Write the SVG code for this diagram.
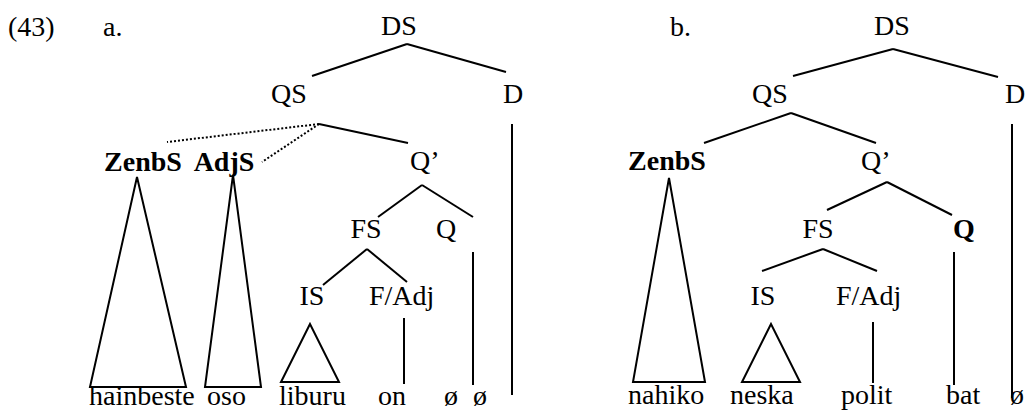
<svg xmlns="http://www.w3.org/2000/svg" width="1025" height="410" viewBox="0 0 1025 410">
<style>
text{font-family:'Liberation Serif','Times New Roman','DejaVu Serif',serif;font-size:28px;fill:#000}
.c{text-anchor:middle}
.b{font-weight:bold}
line,polygon{stroke:#000;stroke-width:2;fill:none}
.d{stroke-dasharray:2,2}
</style>
<rect width="1025" height="410" fill="#fff"/>
<g font-family="Liberation Serif, Times New Roman, DejaVu Serif, serif">
<g id="labels">
<text x="8" y="36">(43)</text>
<text x="103" y="36">a.</text>
<text x="670" y="36">b.</text>
</g>
<g id="a-DS"><text class="c" x="399" y="35">DS</text></g>
<g id="a-QS"><text class="c" x="289" y="103">QS</text></g>
<g id="a-D"><text class="c" x="513" y="103">D</text></g>
<g id="a-ZenbS"><text class="c b" x="143" y="171">ZenbS</text></g>
<g id="a-AdjS"><text class="c b" x="224" y="171">AdjS</text></g>
<g id="a-Qbar"><text x="410" y="170">Q’</text></g>
<g id="a-FS"><text class="c" x="366" y="238">FS</text></g>
<g id="a-Q"><text class="c" x="446" y="238">Q</text></g>
<g id="a-IS"><text class="c" x="312" y="305">IS</text></g>
<g id="a-FAdj"><text x="369" y="305">F/Adj</text></g>
<g id="a-words">
<text x="89" y="405">hainbeste</text>
<text x="207" y="405">oso</text>
<text x="279" y="405">liburu</text>
<text x="378" y="405">on</text>
<text x="444" y="405">ø</text>
<text x="473" y="405">ø</text>
</g>
<g id="b-DS"><text class="c" x="892" y="35">DS</text></g>
<g id="b-QS"><text class="c" x="770" y="103">QS</text></g>
<g id="b-D"><text x="1005" y="103">D</text></g>
<g id="b-ZenbS"><text class="c b" x="667" y="170">ZenbS</text></g>
<g id="b-Qbar"><text x="861" y="170">Q’</text></g>
<g id="b-FS"><text class="c" x="818" y="238">FS</text></g>
<g id="b-Q"><text class="c b" x="964" y="238">Q</text></g>
<g id="b-IS"><text class="c" x="763" y="305">IS</text></g>
<g id="b-FAdj"><text x="836" y="305">F/Adj</text></g>
<g id="b-words">
<text x="628" y="404">nahiko</text>
<text x="730" y="404">neska</text>
<text x="841" y="404">polit</text>
<text x="946" y="404">bat</text>
<text x="1010" y="404">ø</text>
</g>
</g>
<g id="connectors">
<line x1="407" y1="44" x2="312" y2="76"/>
<line x1="407" y1="44" x2="506" y2="72"/>
<line x1="319" y1="124" x2="408" y2="143"/>
<line class="d" x1="319" y1="124" x2="167" y2="142"/>
<line class="d" x1="319" y1="124" x2="262" y2="162"/>
<line x1="422" y1="185" x2="378" y2="217"/>
<line x1="422" y1="185" x2="473" y2="217"/>
<line x1="367" y1="249" x2="323" y2="285"/>
<line x1="367" y1="249" x2="407" y2="282"/>
<polygon points="310,324 281,382 339,382"/>
<line x1="404" y1="318" x2="404" y2="384"/>
<line x1="473" y1="252" x2="473" y2="385"/>
<line x1="512" y1="124" x2="512" y2="395"/>
<polygon points="137,177 90,387 186,387"/>
<polygon points="233,175 205,387 261,387"/>
<line x1="893" y1="49" x2="793" y2="76"/>
<line x1="893" y1="49" x2="998" y2="77"/>
<line x1="791" y1="113" x2="704" y2="143"/>
<line x1="791" y1="113" x2="876" y2="143"/>
<polygon points="669,178 633,382 705,382"/>
<line x1="887" y1="182" x2="827" y2="210"/>
<line x1="887" y1="182" x2="952" y2="215"/>
<line x1="823" y1="249" x2="762" y2="271"/>
<line x1="823" y1="249" x2="877" y2="271"/>
<polygon points="771,324 742,382 800,382"/>
<line x1="873" y1="322" x2="873" y2="383"/>
<line x1="954" y1="252" x2="954" y2="385"/>
<line x1="1012" y1="124" x2="1012" y2="398"/>
</g>
</svg>
